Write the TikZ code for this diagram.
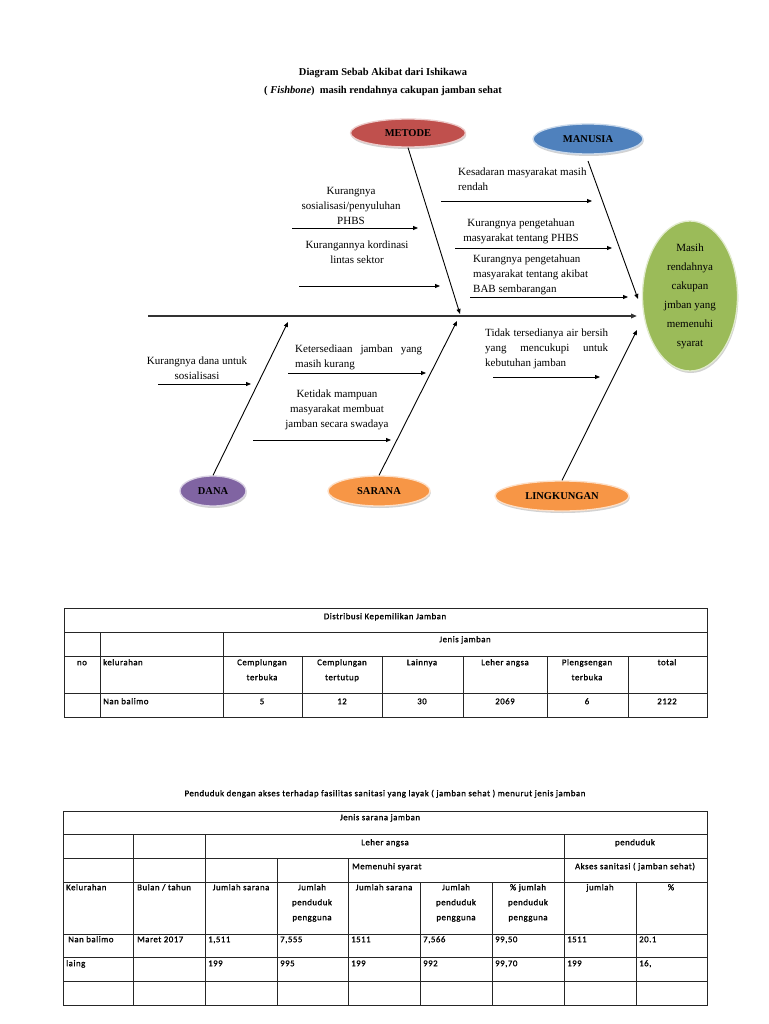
\documentclass[tikz,border=0pt]{standalone}
\usepackage{fontspec}
\setmainfont{Liberation Serif}
\newfontfamily\tabfont[LetterSpace=6, FakeBold=1.2]{Carlito}
\usetikzlibrary{arrows.meta,shapes.geometric,shadows}
\definecolor{cred}{RGB}{192,80,77}
\definecolor{cblue}{RGB}{79,129,189}
\definecolor{cpurple}{RGB}{128,100,162}
\definecolor{corange}{RGB}{247,150,70}
\definecolor{cgreen}{RGB}{155,187,89}
\begin{document}
\begin{tikzpicture}[x=1pt,y=-1pt,
  fish/.style={font=\fontsize{11}{15}\selectfont, inner sep=0pt},
  cause/.style={ellipse, line width=1.3pt, inner sep=0pt,
    font=\fontsize{10.5}{12}\selectfont\bfseries,
    drop shadow={shadow xshift=0.8pt, shadow yshift=-2pt, opacity=0.35}},
  bone/.style={line width=0.9pt, -{Triangle[length=5pt,width=4pt]}},
  sub/.style={line width=0.8pt, -{Triangle[length=5pt,width=4pt]}},
  tab/.style={font=\tabfont\fontsize{8.8}{15}\selectfont, inner sep=0pt},
  grid/.style={line width=1pt, draw=black!85}
]
\useasboundingbox (0,0) rectangle (768,1024);
\fill[white] (0,0) rectangle (768,1024);

% ---------- titles
\node[font=\fontsize{10.5}{12}\selectfont\bfseries] (title1) at (383,73) {Diagram Sebab Akibat dari Ishikawa};
\node[font=\fontsize{10.5}{12}\selectfont\bfseries] (title2) at (383,91) {( \textit{Fishbone})\ \ masih rendahnya cakupan jamban sehat};

% ---------- cause ellipses
\node[cause, fill=cred, draw=cred!30!white, minimum width=115, minimum height=28] (metode) at (408,133) {METODE};
\node[cause, fill=cblue, draw=cblue!30!white, minimum width=110, minimum height=30] (manusia) at (588,139) {MANUSIA};
\node[cause, fill=cpurple, draw=cpurple!30!white, minimum width=66, minimum height=30] (dana) at (213,491) {DANA};
\node[cause, fill=corange, draw=corange!30!white, minimum width=102, minimum height=30] (sarana) at (379,491) {SARANA};
\node[cause, fill=corange, draw=corange!30!white, minimum width=134, minimum height=30] (lingk) at (562,496) {LINGKUNGAN};
\node[ellipse, fill=cgreen, draw=cgreen!30!white, line width=1.3pt, inner sep=0pt,
  minimum width=95, minimum height=150, align=center,
  font=\fontsize{11}{19}\selectfont,
  drop shadow={shadow xshift=0.8pt, shadow yshift=-2pt, opacity=0.35}] (effect) at (690,296)
  {Masih\\rendahnya\\cakupan\\jmban yang\\memenuhi\\syarat};

% ---------- spine and bones
\coordinate (sp0) at (148,316);
\coordinate (sp1) at (637,316);
\draw[line width=1.5pt, draw=black!80, -{Triangle[length=6pt,width=4.5pt]}] (sp0) -- (sp1);

\coordinate (mtip) at (460,314);
\coordinate (nstart) at (588,161);
\coordinate (ntip) at (638,299);
\coordinate (dtip) at (288,322);
\coordinate (stip) at (457,321);
\coordinate (ltip) at (637,330);
\draw[bone] (metode.south) -- (mtip);
\draw[bone] (nstart) -- (ntip);
\draw[bone] (dana.north) -- (dtip);
\draw[bone] (sarana.north) -- (stip);
\draw[bone] (lingk.north) -- (ltip);

% ---------- sub causes (METODE)
\node[fish, align=center, anchor=north] (tm1) at (351,184) {\strut Kurangnya\\sosialisasi/penyuluhan\\PHBS};
\coordinate (am1s) at (292,228); \coordinate (am1e) at (418,228);
\draw[sub] (am1s) -- (am1e);
\node[fish, align=center, anchor=north] (tm2) at (357,238) {\strut Kurangannya kordinasi\\lintas sektor};
\coordinate (am2s) at (299,286); \coordinate (am2e) at (440,286);
\draw[sub] (am2s) -- (am2e);

% ---------- sub causes (MANUSIA)
\node[fish, align=left, anchor=north west] (tn1) at (458,165) {\strut Kesadaran masyarakat masih\\rendah};
\coordinate (an1s) at (441,201); \coordinate (an1e) at (592,201);
\draw[sub] (an1s) -- (an1e);
\node[fish, align=center, anchor=north] (tn2) at (521,216) {\strut Kurangnya pengetahuan\\masyarakat tentang PHBS};
\coordinate (an2s) at (455,248); \coordinate (an2e) at (612,248);
\draw[sub] (an2s) -- (an2e);
\node[fish, align=left, anchor=north west] (tn3) at (473,252) {\strut Kurangnya pengetahuan\\masyarakat tentang akibat\\BAB sembarangan};
\coordinate (an3s) at (470,297); \coordinate (an3e) at (628,297);
\draw[sub] (an3s) -- (an3e);

% ---------- sub causes (DANA)
\node[fish, align=center, anchor=north] (td1) at (197,354) {\strut Kurangnya dana untuk\\sosialisasi};
\coordinate (ad1s) at (158,384); \coordinate (ad1e) at (251,384);
\draw[sub] (ad1s) -- (ad1e);

% ---------- sub causes (SARANA)
\node[fish, align=left, anchor=north west] (ts1) at (295,342) {\strut\makebox[127pt][s]{Ketersediaan jamban yang}\\masih kurang};
\coordinate (as1s) at (288,373); \coordinate (as1e) at (426,373);
\draw[sub] (as1s) -- (as1e);
\node[fish, align=center, anchor=north] (ts2) at (337,387) {\strut Ketidak mampuan\\masyarakat membuat\\jamban secara swadaya};
\coordinate (as2s) at (253,440); \coordinate (as2e) at (391,440);
\draw[sub] (as2s) -- (as2e);

% ---------- sub causes (LINGKUNGAN)
\node[fish, align=left, anchor=north west] (tl1) at (485,326) {\strut\makebox[123pt][s]{Tidak tersedianya air bersih}\\\makebox[123pt][s]{yang mencukupi untuk}\\kebutuhan jamban};
\coordinate (al1s) at (493,377); \coordinate (al1e) at (600,377);
\draw[sub] (al1s) -- (al1e);

% ---------- table 1
\draw[grid] (64,608) rectangle (707,717);
\draw[grid] (64,632) -- (707,632);
\draw[grid] (64,656) -- (707,656);
\draw[grid] (64,693) -- (707,693);
\draw[grid] (100,632) -- (100,717);
\draw[grid] (223,632) -- (223,717);
\foreach \cx in {302,382,463,547,628} \draw[grid] (\cx,656) -- (\cx,717);

\node[tab, anchor=north] (a1) at (385,608.5) {\strut Distribusi Kepemilikan Jamban};
\node[tab, anchor=north] (a2) at (465,631.5) {\strut Jenis jamban};
\node[tab, anchor=north] (a3) at (82,654.5) {\strut no};
\node[tab, anchor=north west] (a4) at (103,654.5) {\strut kelurahan};
\node[tab, anchor=north, align=center] (a5) at (262,654.5) {\strut Cemplungan\\terbuka};
\node[tab, anchor=north, align=center] (a6) at (342,654.5) {\strut Cemplungan\\tertutup};
\node[tab, anchor=north] (a7) at (422,654.5) {\strut Lainnya};
\node[tab, anchor=north] (a8) at (505,654.5) {\strut Leher angsa};
\node[tab, anchor=north, align=center] (a9) at (587,654.5) {\strut Plengsengan\\terbuka};
\node[tab, anchor=north] (a10) at (667,654.5) {\strut total};
\node[tab, anchor=north west] (a11) at (103,693.5) {\strut Nan balimo};
\node[tab, anchor=north] (a12) at (262,693.5) {\strut 5};
\node[tab, anchor=north] (a13) at (342,693.5) {\strut 12};
\node[tab, anchor=north] (a14) at (422,693.5) {\strut 30};
\node[tab, anchor=north] (a15) at (505,693.5) {\strut 2069};
\node[tab, anchor=north] (a16) at (587,693.5) {\strut 6};
\node[tab, anchor=north] (a17) at (667,693.5) {\strut 2122};

% ---------- table 2
\node[tab, anchor=north] (b0) at (385,785.5) {\strut Penduduk dengan akses terhadap fasilitas sanitasi yang layak ( jamban sehat ) menurut jenis jamban};
\draw[grid] (63,811) rectangle (707,1005);
\foreach \ry in {834,858,882,934,957,981} \draw[grid] (63,\ry) -- (707,\ry);
\draw[grid] (133,834) -- (133,1005);
\draw[grid] (205,834) -- (205,1005);
\draw[grid] (277,858) -- (277,1005);
\draw[grid] (348,858) -- (348,1005);
\draw[grid] (420,882) -- (420,1005);
\draw[grid] (492,882) -- (492,1005);
\draw[grid] (564,834) -- (564,1005);
\draw[grid] (636,882) -- (636,1005);

\node[tab, anchor=north] (b1) at (380,809.5) {\strut Jenis sarana jamban};
\node[tab, anchor=north] (b2) at (385,834.5) {\strut Leher angsa};
\node[tab, anchor=north] (b3) at (635,834.5) {\strut penduduk};
\node[tab, anchor=north west] (b4) at (352,858.5) {\strut Memenuhi syarat};
\node[tab, anchor=north] (b5) at (635,858.5) {\strut Akses sanitasi ( jamban sehat)};
\node[tab, anchor=north west] (b6) at (66,879.5) {\strut Kelurahan};
\node[tab, anchor=north west] (b7) at (137,879.5) {\strut Bulan / tahun};
\node[tab, anchor=north] (b8) at (241,879.5) {\strut Jumlah sarana};
\node[tab, anchor=north, align=center] (b9) at (312,879.5) {\strut Jumlah\\penduduk\\pengguna};
\node[tab, anchor=north] (b10) at (384,879.5) {\strut Jumlah sarana};
\node[tab, anchor=north, align=center] (b11) at (456,879.5) {\strut Jumlah\\penduduk\\pengguna};
\node[tab, anchor=north, align=center] (b12) at (528,879.5) {\strut\% jumlah\\penduduk\\pengguna};
\node[tab, anchor=north] (b13) at (600,879.5) {\strut jumlah};
\node[tab, anchor=north] (b14) at (671,879.5) {\strut\%};
\node[tab, anchor=north west] (b15) at (68,931.5) {\strut Nan balimo};
\node[tab, anchor=north west] (b16) at (137,931.5) {\strut Maret 2017};
\node[tab, anchor=north west] (b17) at (208,931.5) {\strut 1,511};
\node[tab, anchor=north west] (b18) at (280,931.5) {\strut 7,555};
\node[tab, anchor=north west] (b19) at (351,931.5) {\strut 1511};
\node[tab, anchor=north west] (b20) at (423,931.5) {\strut 7,566};
\node[tab, anchor=north west] (b21) at (495,931.5) {\strut 99,50};
\node[tab, anchor=north west] (b22) at (567,931.5) {\strut 1511};
\node[tab, anchor=north west] (b23) at (639,931.5) {\strut 20.1};
\node[tab, anchor=north west] (b24) at (66,955.5) {\strut laing};
\node[tab, anchor=north west] (b25) at (208,955.5) {\strut 199};
\node[tab, anchor=north west] (b26) at (280,955.5) {\strut 995};
\node[tab, anchor=north west] (b27) at (351,955.5) {\strut 199};
\node[tab, anchor=north west] (b28) at (423,955.5) {\strut 992};
\node[tab, anchor=north west] (b29) at (495,955.5) {\strut 99,70};
\node[tab, anchor=north west] (b30) at (567,955.5) {\strut 199};
\node[tab, anchor=north west] (b31) at (639,955.5) {\strut 16,};
\end{tikzpicture}
\end{document}
